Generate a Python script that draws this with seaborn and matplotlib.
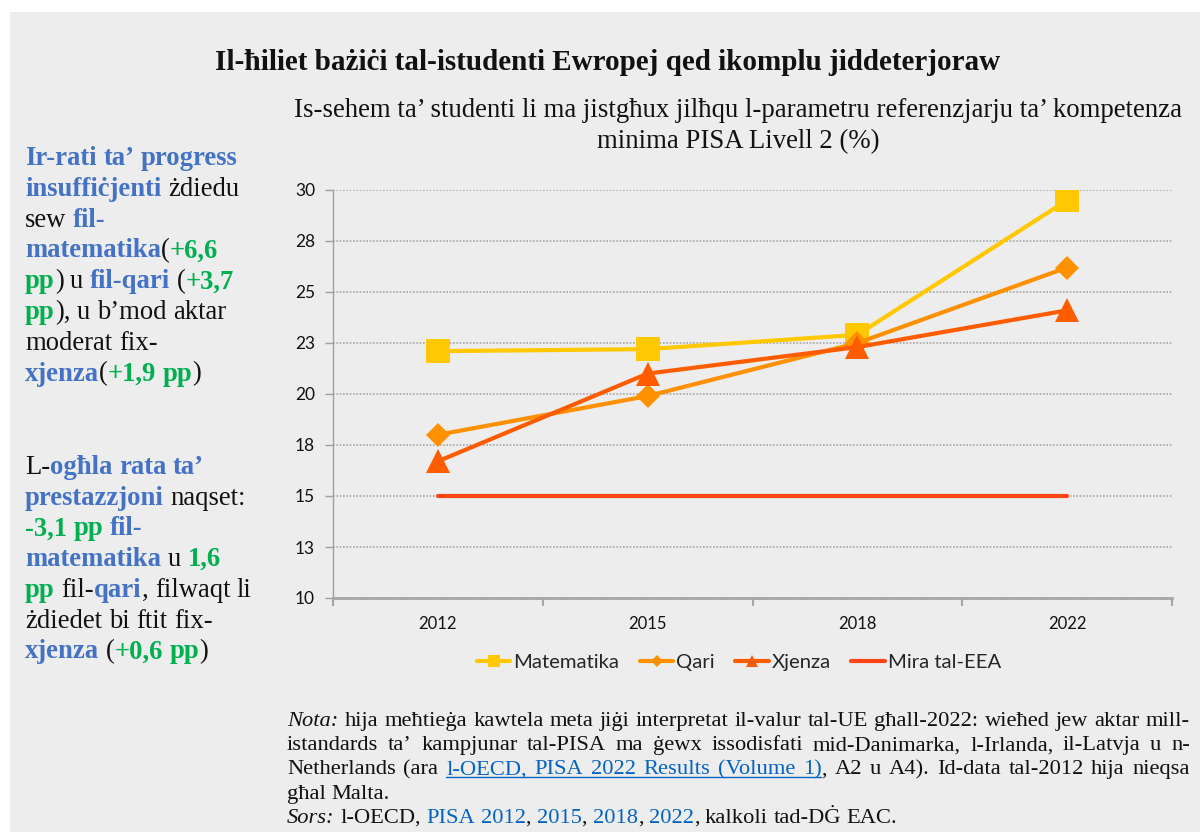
import matplotlib
matplotlib.use("Agg")
import matplotlib.pyplot as plt
import seaborn as sns
import pandas as pd
from matplotlib.lines import Line2D
from matplotlib.patches import Rectangle

# ---------------- data ----------------
years = ["2012", "2015", "2018", "2022"]
matematika = [22.1, 22.2, 22.9, 29.5]
qari = [18.0, 19.9, 22.5, 26.2]
xjenza = [16.7, 21.0, 22.3, 24.1]
mira = [15, 15, 15, 15]
series_names = ["Matematika", "Qari", "Xjenza"]
mira_name = "Mira tal-EEA"
ytick_values = [10, 12.5, 15, 17.5, 20, 22.5, 25, 27.5, 30]
ytick_labels = ["10", "13", "15", "18", "20", "23", "25", "28", "30"]

title = "Il-ħiliet bażiċi tal-istudenti Ewropej qed ikomplu jiddeterjoraw"
subtitle1 = "Is-sehem ta’ studenti li ma jistgħux jilħqu l-parametru referenzjarju ta’ kompetenza"
subtitle2 = "minima PISA Livell 2 (%)"

# ---------------- style ----------------
W, H = 1200, 832
BG = "#ededed"
C_MAT, C_QAR, C_XJE, C_MIR = "#FFC800", "#FF9000", "#FF5C00", "#FF4515"
BLUE, GREEN, BLACK, LINK = "#4472C4", "#00B050", "#111111", "#0563C1"
SERIF = ["Liberation Serif", "DejaVu Serif"]
SANS = ["Lato", "DejaVu Sans"]

sns.set_theme(style="white")
plt.rcParams["font.family"] = SANS

fig = plt.figure(figsize=(W / 100, H / 100), dpi=100, facecolor="white")
fig.patches.append(Rectangle((10 / W, 0), 1 - 10 / W, 1 - 12 / H, transform=fig.transFigure,
                             facecolor=BG, edgecolor="none", zorder=-10))

ax = fig.add_axes([333 / W, 1 - 598 / H, (1172 - 333) / W, (598 - 190) / H])
ax.set_facecolor("none")

df = pd.DataFrame({
    "Year": years * 3,
    "Value": matematika + qari + xjenza,
    "Series": [s for s in series_names for _ in years],
})
palette = {"Matematika": C_MAT, "Qari": C_QAR, "Xjenza": C_XJE}
markers = {"Matematika": "s", "Qari": "D", "Xjenza": "^"}
sns.lineplot(data=df, x="Year", y="Value", hue="Series", style="Series",
             hue_order=series_names, style_order=series_names,
             palette=palette, markers=markers, dashes=False, markersize=17,
             markeredgewidth=0, linewidth=3, legend=False, sort=False, ax=ax, zorder=3)
for ln in ax.lines:
    if ln.get_marker() == "D":
        ln.set_markersize(12.5)
sns.lineplot(x=years, y=mira, color=C_MIR, linewidth=3, ax=ax, zorder=2)

ax.set_xlim(-0.5, 3.5)
ax.set_ylim(10, 30)
ax.set_xticks(range(len(years)))
ax.set_xticklabels(years)
ax.set_xticks([-0.5, 0.5, 1.5, 2.5, 3.5], minor=True)
ax.tick_params(axis="x", which="major", length=0, pad=13, labelsize=12, labelcolor=BLACK)
ax.tick_params(axis="x", which="minor", length=6, width=1.5, color="#a6a6a6", bottom=True)
ax.set_yticks(ytick_values)
ax.set_yticklabels(ytick_labels)
ax.tick_params(axis="y", which="major", length=6, width=1, color="#a0a0a0", pad=7,
               labelsize=12.5, labelcolor=BLACK, left=True)
ax.yaxis.grid(True, color="#a6a6a6", linestyle=(0, (1, 1)), linewidth=1.2)
ax.xaxis.grid(False)
ax.set_xlabel("")
ax.set_ylabel("")
for s in ["top", "right"]:
    ax.spines[s].set_visible(False)
ax.spines["left"].set_color("#a0a0a0")
ax.spines["left"].set_linewidth(1)
ax.spines["bottom"].set_color("#a6a6a6")
ax.spines["bottom"].set_linewidth(2)
ax.set_axisbelow(True)

handles = [
    Line2D([], [], color=C_MAT, marker="s", markersize=8, linewidth=3, markeredgewidth=0),
    Line2D([], [], color=C_QAR, marker="D", markersize=6, linewidth=3, markeredgewidth=0),
    Line2D([], [], color=C_XJE, marker="^", markersize=8, linewidth=3, markeredgewidth=0),
    Line2D([], [], color=C_MIR, linewidth=3),
]
fig.legend(handles, series_names + [mira_name], loc="center", ncol=4, frameon=False,
           bbox_to_anchor=(739 / W, 1 - 662 / H), handlelength=1.65,
           handletextpad=0.15, columnspacing=1.0, prop={"family": SANS, "size": 14.6})

# ---------------- texts ----------------
fig.text(608 / W, 1 - 70 / H, title, ha="center", va="baseline", fontsize=21,
         fontweight="bold", family=SERIF, color=BLACK)
fig.text(738 / W, 1 - 117 / H, subtitle1, ha="center", va="baseline", fontsize=19.3,
         family=SERIF, color=BLACK)
fig.text(738 / W, 1 - 148 / H, subtitle2, ha="center", va="baseline", fontsize=19.3,
         family=SERIF, color=BLACK)

R = fig.canvas.get_renderer()


def measure(text, **kw):
    t = fig.text(0, 0, text, **kw)
    w = t.get_window_extent(renderer=R).width
    t.remove()
    return w


def draw_line(segs, x0, yb, size, width=None):
    words = [[]]
    for text, color, weight, style, ul in segs:
        parts = text.split(" ")
        for i, p in enumerate(parts):
            if i > 0:
                words.append([])
            if p:
                words[-1].append((p, dict(color=color, fontweight=weight, fontstyle=style), ul))
    words = [w for w in words if w]
    base = dict(fontsize=size, family=SERIF)
    widths = [[measure(p, **base, **st) for p, st, ul in w] for w in words]
    if width is None or len(words) < 2:
        gap = measure("n n", **base) - measure("nn", **base)
    else:
        gap = (width - sum(sum(w) for w in widths)) / (len(words) - 1)
    x = x0
    spans = []
    for w, ws in zip(words, widths):
        for (p, st, ul), pw in zip(w, ws):
            fig.text(x / W, 1 - yb / H, p, ha="left", va="baseline", **base, **st)
            if ul:
                if spans and x - spans[-1][1] <= gap + 1.5:
                    spans[-1][1] = x + pw
                else:
                    spans.append([x, x + pw])
            x += pw
        x += gap
    for a, b in spans:
        fig.add_artist(Line2D([a / W, b / W], [1 - (yb + 3) / H] * 2, color=LINK,
                              linewidth=1, transform=fig.transFigure))


def B(t):
    return (t, BLUE, "bold", "normal", False)


def G(t):
    return (t, GREEN, "bold", "normal", False)


def K(t):
    return (t, BLACK, "normal", "normal", False)


def I(t):
    return (t, BLACK, "normal", "italic", False)


def L(t, ul=True):
    return (t, LINK, "normal", "normal", ul)


left1 = [
    [B("Ir-rati ta’ progress")],
    [B("insuffiċjenti"), K(" żdiedu")],
    [K("sew "), B("fil-")],
    [B("matematika"), K("("), G("+6,6")],
    [G("pp"), K(") u "), B("fil-qari"), K(" ("), G("+3,7")],
    [G("pp"), K("), u b’mod aktar")],
    [K("moderat fix-")],
    [B("xjenza"), K("("), G("+1,9 pp"), K(")")],
]
left2 = [
    [K("L-"), B("ogħla rata ta’")],
    [B("prestazzjoni"), K(" naqset:")],
    [G("-3,1 pp "), B("fil-")],
    [B("matematika"), K(" u "), G("1,6")],
    [G("pp"), K(" fil-"), B("qari"), K(", filwaqt li")],
    [K("żdiedet bi ftit fix-")],
    [B("xjenza"), K(" ("), G("+0,6 pp"), K(")")],
]
for i, segs in enumerate(left1):
    draw_line(segs, 25, 165 + i * 30.8, 19.2)
for i, segs in enumerate(left2):
    draw_line(segs, 25, 474 + i * 30.7, 19.2)

notes = [
    ([I("Nota:"), K(" hija meħtieġa kawtela meta jiġi interpretat il-valur tal-UE għall-2022: wieħed jew aktar mill-")], True),
    ([K("istandards ta’ kampjunar tal-PISA ma ġewx issodisfati mid-Danimarka, l-Irlanda, il-Latvja u n-")], True),
    ([K("Netherlands (ara "), L("l-OECD, PISA 2022 Results (Volume 1)"), K(", A2 u A4). Id-data tal-2012 hija nieqsa")], True),
    ([K("għal Malta.")], False),
    ([I("Sors:"), K(" l-OECD, "), L("PISA 2012", False), K(", "), L("2015", False), K(", "),
      L("2018", False), K(", "), L("2022", False), K(", kalkoli tad-DĠ EAC.")], False),
]
for i, (segs, just) in enumerate(notes):
    draw_line(segs, 287, 726 + i * 24.2, 16.2, width=(1190 - 287) if just else None)

fig.savefig("out.png", dpi=100, facecolor="white")
